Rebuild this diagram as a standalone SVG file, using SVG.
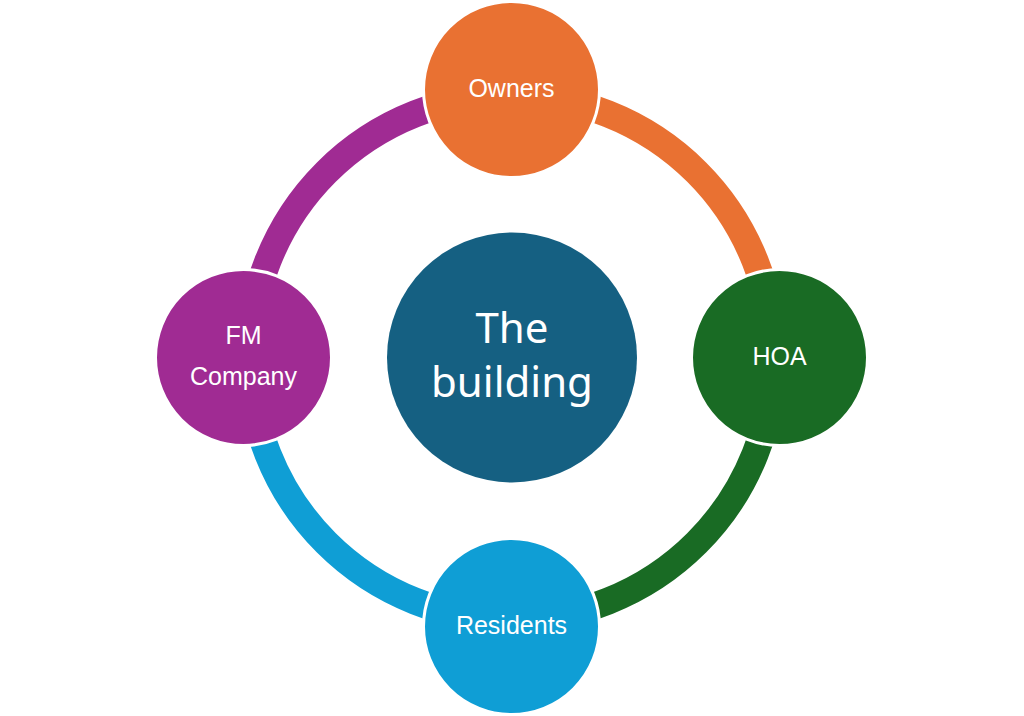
<svg xmlns="http://www.w3.org/2000/svg" width="1024" height="716" viewBox="0 0 1024 716">
<style>
.arc{fill:none;stroke-width:27}
.node{stroke:#fff;stroke-width:3}
.lbl{font-family:"Liberation Sans",Arial,sans-serif;font-size:25px;fill:#fff;text-anchor:middle}
.ctr{font-family:"Noto Sans","Open Sans",sans-serif;font-size:42px;fill:#fff;text-anchor:middle}
</style>
<rect width="1024" height="716" fill="#fff"/>
<g id="connectors">
<path class="arc" stroke="#E97132" d="M511.5 95.5 A262 262 0 0 1 773.5 357.5"/>
<path class="arc" stroke="#196B24" d="M773.5 357.5 A262 262 0 0 1 511.5 619.5"/>
<path class="arc" stroke="#0F9ED5" d="M511.5 619.5 A262 262 0 0 1 249.5 357.5"/>
<path class="arc" stroke="#A02B93" d="M249.5 357.5 A262 262 0 0 1 511.5 95.5"/>
</g>
<g id="center">
<circle cx="512" cy="357.5" r="125" fill="#156082"/>
<text class="ctr" x="512" y="343">The</text>
<text class="ctr" x="512" y="397">building</text>
</g>
<g id="owners">
<circle class="node" cx="511.5" cy="89.5" r="88" fill="#E97132"/>
<text class="lbl" x="511.5" y="97">Owners</text>
</g>
<g id="hoa">
<circle class="node" cx="779.5" cy="357.5" r="88" fill="#196B24"/>
<text class="lbl" x="779.5" y="365">HOA</text>
</g>
<g id="residents">
<circle class="node" cx="511.5" cy="626.5" r="88" fill="#0F9ED5"/>
<text class="lbl" x="511.5" y="634">Residents</text>
</g>
<g id="fm">
<circle class="node" cx="243.5" cy="357.5" r="88" fill="#A02B93"/>
<text class="lbl" x="243.5" y="344">FM</text>
<text class="lbl" x="243.5" y="385">Company</text>
</g>
</svg>
